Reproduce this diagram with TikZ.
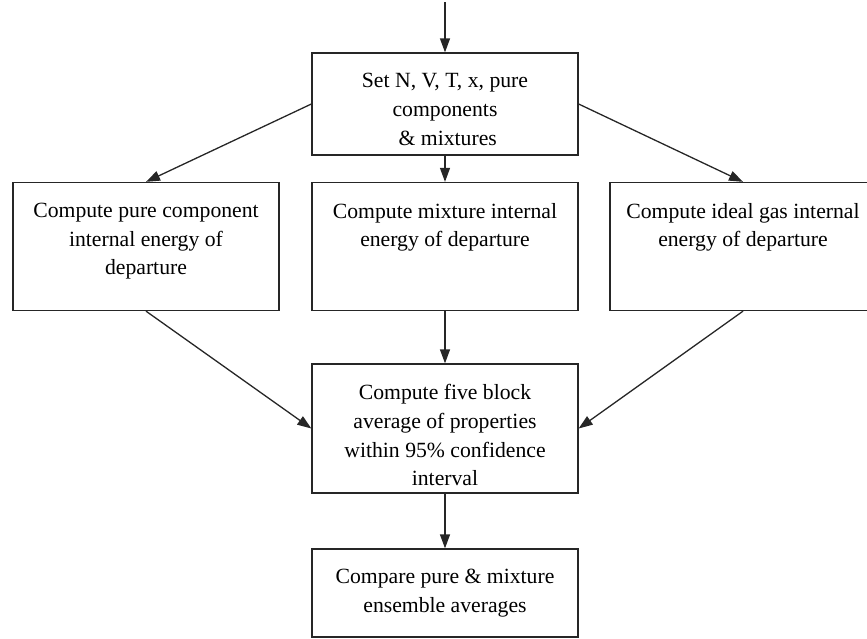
\documentclass[tikz,border=0pt]{standalone}
\usepackage{fontspec}
\setmainfont{Liberation Serif}
\usetikzlibrary{arrows.meta}

\begin{document}
\begin{tikzpicture}[x=1pt,y=-1pt,
box/.style={draw=black!85, line width=1.3pt, minimum width=266pt, inner sep=0pt},
txt/.style={anchor=north, align=center, inner sep=0pt, yshift=-21pt,
    font=\fontsize{21.7}{28.7}\selectfont},
arr/.style={draw=black!85, line width=1.3pt, -{Triangle[length=14pt,width=10pt]}}]
\useasboundingbox (0,0) rectangle (867,638);
\coordinate (start) at (445,2);
\node[box, minimum height=102pt] (setup) at (445,104) {};
\node[box, minimum height=128pt] (pure) at (146,246.5) {};
\node[box, minimum height=128pt] (mix) at (445,246.5) {};
\node[box, minimum height=128pt] (ideal) at (743,246.5) {};
\node[box, minimum height=129pt] (block) at (445,428.5) {};
\node[box, minimum height=88pt] (compare) at (445,593) {};
\node[txt] (setuptxt) at (setup.north) {Set N, V, T, x, pure\\components\\\ \& mixtures};
\node[txt] (puretxt) at (pure.north) {Compute pure component\\internal energy of\\departure};
\node[txt] (mixtxt) at (mix.north) {Compute mixture internal\\energy of departure};
\node[txt] (idealtxt) at (ideal.north) {Compute ideal gas internal\\energy of departure};
\node[txt] (blocktxt) at (block.north) {Compute five block\\average of properties\\within 95\% confidence\\interval};
\node[txt] (comparetxt) at (compare.north) {Compare pure \& mixture\\ensemble averages};
\draw[arr] (start) -- (setup);
\draw[arr] (setup.west) -- (pure.north);
\draw[arr] (setup) -- (mix);
\draw[arr] (setup.east) -- (ideal.north);
\draw[arr] (pure.south) -- (block.west);
\draw[arr] (mix) -- (block);
\draw[arr] (ideal.south) -- (block.east);
\draw[arr] (block) -- (compare);
\end{tikzpicture}
\end{document}
